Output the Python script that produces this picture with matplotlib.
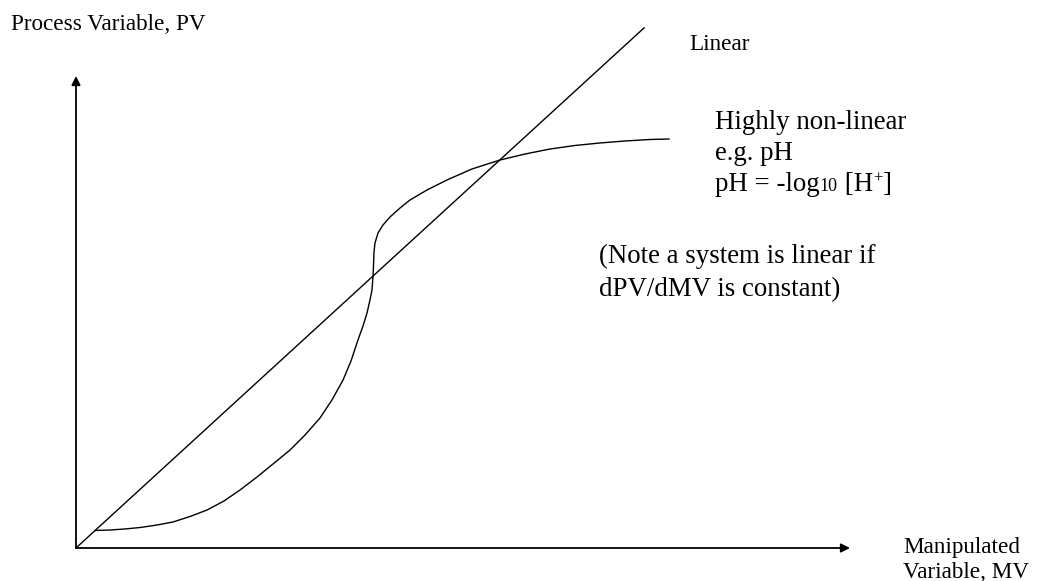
import matplotlib
matplotlib.use("Agg")
import matplotlib.pyplot as plt
from matplotlib.transforms import IdentityTransform

# values (MV and PV both on a 0-100 scale)
linear_mv = [0.0, 73.4]
linear_pv = [0.0, 110.2]

ph_mv = [2.45, 4.39, 6.33, 8.27, 10.47, 12.53, 14.73, 16.93, 19.12, 21.19, 23.39,
         25.45, 27.65, 29.59, 31.52, 33.07, 34.50, 35.53, 36.43, 37.08, 37.60, 37.98,
         38.24, 38.37, 38.44, 38.50, 38.63, 39.02, 39.66, 40.57, 41.86, 43.15, 45.35,
         47.93, 51.16, 54.78, 58.01, 61.24, 64.47, 67.70, 70.93, 74.16, 76.61]
ph_pv = [3.71, 3.81, 4.03, 4.34, 4.87, 5.51, 6.67, 8.05, 9.96, 12.29, 15.04,
         17.80, 20.76, 23.94, 27.54, 31.36, 35.59, 39.62, 44.07, 47.03, 49.79, 52.54,
         54.66, 57.42, 59.96, 62.71, 64.62, 66.74, 68.43, 70.13, 72.03, 73.73, 75.85,
         77.97, 80.30, 82.20, 83.47, 84.53, 85.28, 85.81, 86.23, 86.55, 86.65]

W, H = 1037, 581
serif = "Liberation Serif"
big = 19.4
small = 16.7

fig = plt.figure(figsize=(W / 100, H / 100), dpi=100)
ax = fig.add_axes([76 / W, (H - 548) / H, 774 / W, 472 / H])
ax.set_xlim(0, 100)
ax.set_ylim(0, 100)
ax.axis("off")

arrow = dict(arrowstyle="-|>", color="black", lw=1.3, mutation_scale=13,
             shrinkA=0, shrinkB=0)
ax.annotate("", xy=(100, 0), xytext=(0, 0), arrowprops=arrow, annotation_clip=False)
ax.annotate("", xy=(0, 100), xytext=(0, 0), arrowprops=arrow, annotation_clip=False)

ax.plot(linear_mv, linear_pv, color="black", lw=1.0, clip_on=False)
ax.plot(ph_mv, ph_pv, color="black", lw=1.0, clip_on=False,
        solid_joinstyle="round")


def label(x, y, s, size):
    return fig.text(x, H - y, s, transform=IdentityTransform(), fontsize=size,
                    family=serif, va="baseline", ha="left")


label(11, 30, "Process Variable, PV", small)
label(689, 50, "Linear", small)
label(715, 129, "Highly non-linear", big)
label(715, 160, "e.g. pH", big)
label(599, 263, "(Note a system is linear if", big)
label(599, 296, "dPV/dMV is constant)", big)
label(903, 553, "Manipulated", small)
label(903, 578, "Variable, MV", small)

# pH = -log10 [H+] built from pieces so the sub/superscripts sit right
renderer = fig.canvas.get_renderer()
x = 715
base = 191
pieces = [("pH = -log", big, 0), ("10", 13, 0), ("\u00a0[H", big, 0),
          ("+", 12, 8), ("]", big, 0)]
for s, size, rise in pieces:
    t = label(x, base - rise, s, size)
    x = t.get_window_extent(renderer).x1

fig.savefig("out.png", dpi=100)
